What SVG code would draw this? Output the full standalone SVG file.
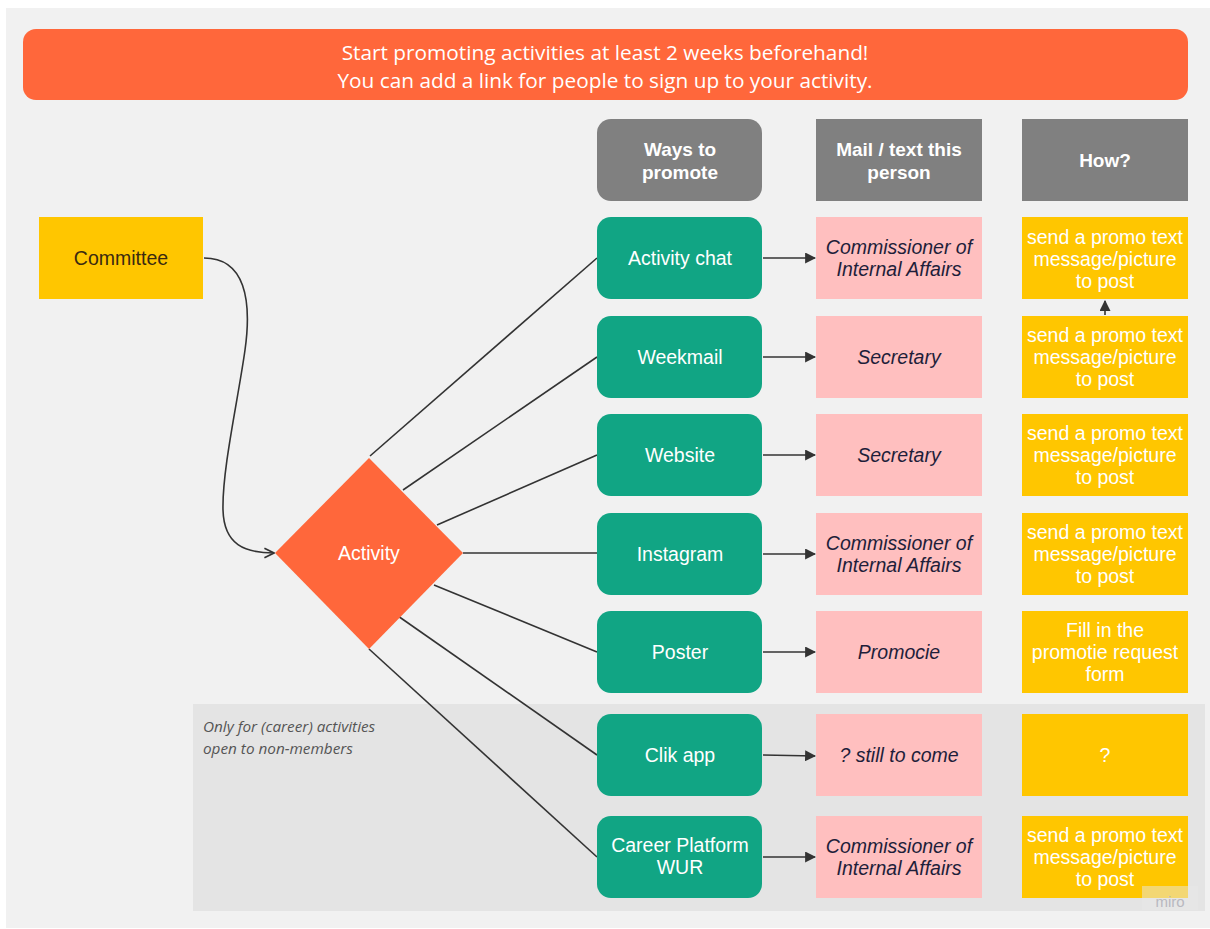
<svg xmlns="http://www.w3.org/2000/svg" width="1210" height="929" viewBox="0 0 1210 929">
<defs>
<marker id="ah" viewBox="0 0 10 10" refX="9" refY="5" markerWidth="11" markerHeight="11" markerUnits="userSpaceOnUse" orient="auto"><path d="M0,0 L10,5 L0,10 Z" fill="#333"/></marker>
<marker id="open" viewBox="0 0 10 10" refX="9" refY="5" markerWidth="12" markerHeight="12" markerUnits="userSpaceOnUse" orient="auto"><path d="M1,1 L9,5 L1,9" fill="none" stroke="#333" stroke-width="1.4"/></marker>
<style>
.hdr{fill:#808080}
.grn{fill:#11a584}
.pnk{fill:#ffbfbf}
.yel{fill:#ffc600}
.t{font-family:"Liberation Sans",Arial,sans-serif;font-size:19.5px;text-anchor:middle;dominant-baseline:central}
.w{fill:#fff}
.hb{font-weight:bold;font-size:19px}
.it{font-style:italic;fill:#1e1e3a}
.ln{stroke:#333;stroke-width:1.6;fill:none}
</style>
</defs>
<rect x="0" y="0" width="1210" height="929" fill="#fff"/>
<rect x="6" y="8" width="1204" height="920" fill="#f1f1f1"/>
<rect x="193" y="704" width="1012" height="207" fill="#e4e4e4"/>
<text x="203" y="726" font-family="'Open Sans',sans-serif" font-size="15.3" font-style="italic" fill="#555" dominant-baseline="central">Only for (career) activities</text>
<text x="203" y="748" font-family="'Open Sans',sans-serif" font-size="15.3" font-style="italic" fill="#555" dominant-baseline="central">open to non-members</text>

<g id="banner">
<rect x="23" y="29" width="1165" height="71" rx="13" fill="#ff673b"/>
<text x="605" y="52" font-family="'Open Sans',sans-serif" font-size="20.8" fill="#fff" text-anchor="middle" dominant-baseline="central">Start promoting activities at least 2 weeks beforehand!</text>
<text x="605" y="80" font-family="'Open Sans',sans-serif" font-size="20.8" fill="#fff" text-anchor="middle" dominant-baseline="central">You can add a link for people to sign up to your activity.</text>
</g>

<g id="connectors">
<path class="ln" d="M204,258 C245,258 252,300 245,350 C238,400 222,470 223,510 C224,545 245,553 274,553" marker-end="url(#open)"/>
<line class="ln" x1="370" y1="456" x2="597" y2="258"/>
<line class="ln" x1="403" y1="490" x2="597" y2="357"/>
<line class="ln" x1="437" y1="525" x2="597" y2="455"/>
<line class="ln" x1="463" y1="553" x2="597" y2="553"/>
<line class="ln" x1="434" y1="585" x2="597" y2="652"/>
<line class="ln" x1="398" y1="616" x2="597" y2="755"/>
<line class="ln" x1="369" y1="649" x2="597" y2="857"/>
<line class="ln" x1="763" y1="258" x2="815" y2="258" marker-end="url(#ah)"/>
<line class="ln" x1="763" y1="357" x2="815" y2="357" marker-end="url(#ah)"/>
<line class="ln" x1="763" y1="455" x2="815" y2="455" marker-end="url(#ah)"/>
<line class="ln" x1="763" y1="554" x2="815" y2="554" marker-end="url(#ah)"/>
<line class="ln" x1="763" y1="652" x2="815" y2="652" marker-end="url(#ah)"/>
<line class="ln" x1="763" y1="755" x2="815" y2="756" marker-end="url(#ah)"/>
<line class="ln" x1="763" y1="857" x2="815" y2="857" marker-end="url(#ah)"/>
<line class="ln" x1="1105" y1="315" x2="1105" y2="301" marker-end="url(#ah)"/>
</g>

<g id="committee">
<rect x="39" y="217" width="164" height="82" class="yel"/>
<text class="t" x="121" y="258" fill="#3a2a10">Committee</text>
</g>
<g id="activity">
<polygon points="369,458 463,553 369,649 275,553" fill="#ff673b"/>
<text class="t w" x="369" y="553">Activity</text>
</g>

<g id="h-ways"><rect x="597" y="119" width="165" height="82" rx="14" class="hdr"/><text class="t w hb" x="680" y="149">Ways to</text><text class="t w hb" x="680" y="172">promote</text></g>
<g id="h-mail"><rect x="816" y="119" width="166" height="82" class="hdr"/><text class="t w hb" x="899" y="149">Mail / text this</text><text class="t w hb" x="899" y="172">person</text></g>
<g id="h-how"><rect x="1022" y="119" width="166" height="82" class="hdr"/><text class="t w hb" x="1105" y="160">How?</text></g>

<g id="g1"><rect x="597" y="217" width="165" height="82" rx="14" class="grn"/><text class="t w" x="680" y="258">Activity chat</text></g>
<g id="g2"><rect x="597" y="316" width="165" height="82" rx="14" class="grn"/><text class="t w" x="680" y="357">Weekmail</text></g>
<g id="g3"><rect x="597" y="414" width="165" height="82" rx="14" class="grn"/><text class="t w" x="680" y="455">Website</text></g>
<g id="g4"><rect x="597" y="513" width="165" height="82" rx="14" class="grn"/><text class="t w" x="680" y="554">Instagram</text></g>
<g id="g5"><rect x="597" y="611" width="165" height="82" rx="14" class="grn"/><text class="t w" x="680" y="652">Poster</text></g>
<g id="g6"><rect x="597" y="714" width="165" height="82" rx="14" class="grn"/><text class="t w" x="680" y="755">Clik app</text></g>
<g id="g7"><rect x="597" y="816" width="165" height="82" rx="14" class="grn"/><text class="t w" x="680" y="845">Career Platform</text><text class="t w" x="680" y="867">WUR</text></g>

<g id="p1"><rect x="816" y="217" width="166" height="82" class="pnk"/><text class="t it" x="899" y="247">Commissioner of</text><text class="t it" x="899" y="269">Internal Affairs</text></g>
<g id="p2"><rect x="816" y="316" width="166" height="82" class="pnk"/><text class="t it" x="899" y="357">Secretary</text></g>
<g id="p3"><rect x="816" y="414" width="166" height="82" class="pnk"/><text class="t it" x="899" y="455">Secretary</text></g>
<g id="p4"><rect x="816" y="513" width="166" height="82" class="pnk"/><text class="t it" x="899" y="543">Commissioner of</text><text class="t it" x="899" y="565">Internal Affairs</text></g>
<g id="p5"><rect x="816" y="611" width="166" height="82" class="pnk"/><text class="t it" x="899" y="652">Promocie</text></g>
<g id="p6"><rect x="816" y="714" width="166" height="82" class="pnk"/><text class="t it" x="899" y="755">? still to come</text></g>
<g id="p7"><rect x="816" y="816" width="166" height="82" class="pnk"/><text class="t it" x="899" y="846">Commissioner of</text><text class="t it" x="899" y="868">Internal Affairs</text></g>

<g id="y1"><rect x="1022" y="217" width="166" height="82" class="yel"/><text class="t w" x="1105" y="237">send a promo text</text><text class="t w" x="1105" y="259">message/picture</text><text class="t w" x="1105" y="281">to post</text></g>
<g id="y2"><rect x="1022" y="316" width="166" height="82" class="yel"/><text class="t w" x="1105" y="335">send a promo text</text><text class="t w" x="1105" y="357">message/picture</text><text class="t w" x="1105" y="379">to post</text></g>
<g id="y3"><rect x="1022" y="414" width="166" height="82" class="yel"/><text class="t w" x="1105" y="433">send a promo text</text><text class="t w" x="1105" y="455">message/picture</text><text class="t w" x="1105" y="477">to post</text></g>
<g id="y4"><rect x="1022" y="513" width="166" height="82" class="yel"/><text class="t w" x="1105" y="532">send a promo text</text><text class="t w" x="1105" y="554">message/picture</text><text class="t w" x="1105" y="576">to post</text></g>
<g id="y5"><rect x="1022" y="611" width="166" height="82" class="yel"/><text class="t w" x="1105" y="630">Fill in the</text><text class="t w" x="1105" y="652">promotie request</text><text class="t w" x="1105" y="674">form</text></g>
<g id="y6"><rect x="1022" y="714" width="166" height="82" class="yel"/><text class="t w" x="1105" y="755">?</text></g>
<g id="y7"><rect x="1022" y="816" width="166" height="82" class="yel"/><text class="t w" x="1105" y="835">send a promo text</text><text class="t w" x="1105" y="857">message/picture</text><text class="t w" x="1105" y="879">to post</text></g>
<rect x="1142" y="886" width="56" height="24" fill="#e8e8e8" opacity="0.5"/>
<text x="1170" y="901" font-family="'Liberation Sans',sans-serif" font-size="15" fill="#b8b8c0" text-anchor="middle" dominant-baseline="central">miro</text>
</svg>
